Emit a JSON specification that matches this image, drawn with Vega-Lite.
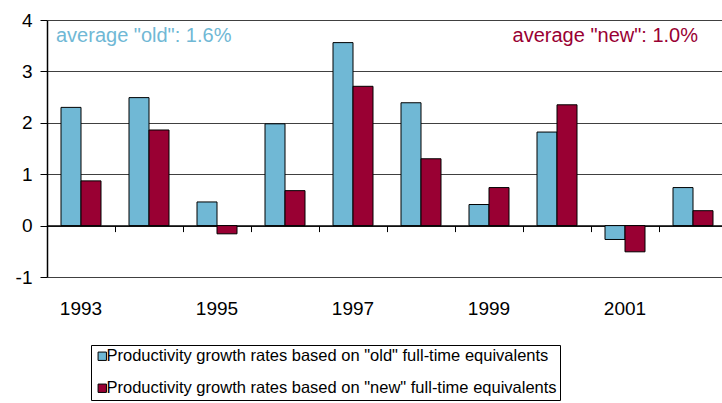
{
  "$schema": "https://vega.github.io/schema/vega-lite/v6.json",
  "width": 675,
  "height": 257,
  "autosize": {"type": "none"},
  "padding": {"left": 47, "top": 20, "right": 0, "bottom": 126},
  "config": {"font": "Liberation Sans", "view": {"stroke": null}},
  "layer": [
    {
      "data": {
        "values": [
          {"year": "1993", "series": "Productivity growth rates based on \"old\" full-time equivalents", "value": 2.30},
          {"year": "1993", "series": "Productivity growth rates based on \"new\" full-time equivalents", "value": 0.87},
          {"year": "1994", "series": "Productivity growth rates based on \"old\" full-time equivalents", "value": 2.49},
          {"year": "1994", "series": "Productivity growth rates based on \"new\" full-time equivalents", "value": 1.86},
          {"year": "1995", "series": "Productivity growth rates based on \"old\" full-time equivalents", "value": 0.46},
          {"year": "1995", "series": "Productivity growth rates based on \"new\" full-time equivalents", "value": -0.16},
          {"year": "1996", "series": "Productivity growth rates based on \"old\" full-time equivalents", "value": 1.98},
          {"year": "1996", "series": "Productivity growth rates based on \"new\" full-time equivalents", "value": 0.68},
          {"year": "1997", "series": "Productivity growth rates based on \"old\" full-time equivalents", "value": 3.56},
          {"year": "1997", "series": "Productivity growth rates based on \"new\" full-time equivalents", "value": 2.71},
          {"year": "1998", "series": "Productivity growth rates based on \"old\" full-time equivalents", "value": 2.39},
          {"year": "1998", "series": "Productivity growth rates based on \"new\" full-time equivalents", "value": 1.30},
          {"year": "1999", "series": "Productivity growth rates based on \"old\" full-time equivalents", "value": 0.41},
          {"year": "1999", "series": "Productivity growth rates based on \"new\" full-time equivalents", "value": 0.74},
          {"year": "2000", "series": "Productivity growth rates based on \"old\" full-time equivalents", "value": 1.82},
          {"year": "2000", "series": "Productivity growth rates based on \"new\" full-time equivalents", "value": 2.35},
          {"year": "2001", "series": "Productivity growth rates based on \"old\" full-time equivalents", "value": -0.27},
          {"year": "2001", "series": "Productivity growth rates based on \"new\" full-time equivalents", "value": -0.51},
          {"year": "2002", "series": "Productivity growth rates based on \"old\" full-time equivalents", "value": 0.74},
          {"year": "2002", "series": "Productivity growth rates based on \"new\" full-time equivalents", "value": 0.29}
        ]
      },
      "layer": [
        {
          "mark": {"type": "bar", "stroke": "black", "strokeWidth": 1},
          "encoding": {
            "x": {
              "field": "year",
              "type": "ordinal",
              "scale": {"paddingInner": 0, "paddingOuter": 0, "range": [0, 680]},
              "axis": {
                "orient": "bottom",
                "title": null,
                "domain": false,
                "ticks": false,
                "grid": false,
                "labelAngle": 0,
                "labelFontSize": 19,
                "labelColor": "black",
                "labelPadding": 22,
                "labelExpr": "parseInt(datum.value) % 2 == 1 ? datum.value : ''"
              }
            },
            "xOffset": {
              "field": "series",
              "scale": {
                "domain": [
                  "Productivity growth rates based on \"old\" full-time equivalents",
                  "Productivity growth rates based on \"new\" full-time equivalents"
                ],
                "paddingInner": 0,
                "paddingOuter": 0.7
              }
            },
            "y": {
              "field": "value",
              "type": "quantitative",
              "scale": {"domain": [-1, 4], "nice": false, "zero": false},
              "axis": {
                "title": null,
                "values": [-1, 0, 1, 2, 3, 4],
                "labelExpr": "datum.value < 0 ? '-' + abs(datum.value) : '' + datum.value",
                "domain": true,
                "domainColor": "black",
                "domainWidth": 1.5,
                "ticks": true,
                "tickSize": 7,
                "tickColor": "black",
                "grid": true,
                "gridColor": "#404040",
                "gridOpacity": 1,
                "labelFontSize": 19,
                "labelColor": "black",
                "labelPadding": 8
              }
            },
            "color": {
              "field": "series",
              "type": "nominal",
              "scale": {
                "domain": [
                  "Productivity growth rates based on \"old\" full-time equivalents",
                  "Productivity growth rates based on \"new\" full-time equivalents"
                ],
                "range": ["#70B8D5", "#990033"]
              },
              "legend": {
                "orient": "none",
                "legendX": 44,
                "legendY": 325,
                "title": null,
                "direction": "vertical",
                "labelFontSize": 16.5,
                "labelColor": "black",
                "labelLimit": 700,
                "labelOffset": -4,
                "symbolType": "square",
                "symbolSize": 70,
                "symbolStrokeColor": "black",
                "symbolStrokeWidth": 1,
                "symbolOpacity": 1,
                "strokeColor": "black",
                "fillColor": "white",
                "padding": 3,
                "rowPadding": 15
              }
            }
          }
        },
        {
          "mark": {"type": "point", "opacity": 0},
          "encoding": {
            "x": {
              "field": "year",
              "type": "ordinal",
              "axis": {
                "orient": "bottom",
                "offset": -51.4,
                "title": null,
                "labels": false,
                "grid": false,
                "domain": true,
                "domainColor": "black",
                "domainWidth": 1.5,
                "ticks": true,
                "tickBand": "extent",
                "tickColor": "black",
                "tickSize": 6
              }
            },
            "y": {"field": "value", "type": "quantitative"}
          }
        }
      ],
      "resolve": {"axis": {"x": "independent"}}
    },
    {
      "data": {"values": [{"label": "average \"old\": 1.6%"}]},
      "mark": {"type": "text", "align": "left", "baseline": "middle", "fontSize": 20, "fill": "#70B8D5", "dx": 9},
      "encoding": {
        "x": {"datum": "1993", "type": "ordinal", "bandPosition": 0, "axis": null},
        "y": {"datum": 3.69, "type": "quantitative"},
        "text": {"field": "label"}
      }
    },
    {
      "data": {"values": [{"label": "average \"new\": 1.0%"}]},
      "mark": {"type": "text", "align": "right", "baseline": "middle", "fontSize": 20, "fill": "#990033", "dx": -29},
      "encoding": {
        "x": {"datum": "2002", "type": "ordinal", "bandPosition": 1, "axis": null},
        "y": {"datum": 3.69, "type": "quantitative"},
        "text": {"field": "label"}
      }
    }
  ],
  "resolve": {"axis": {"x": "independent"}}
}
